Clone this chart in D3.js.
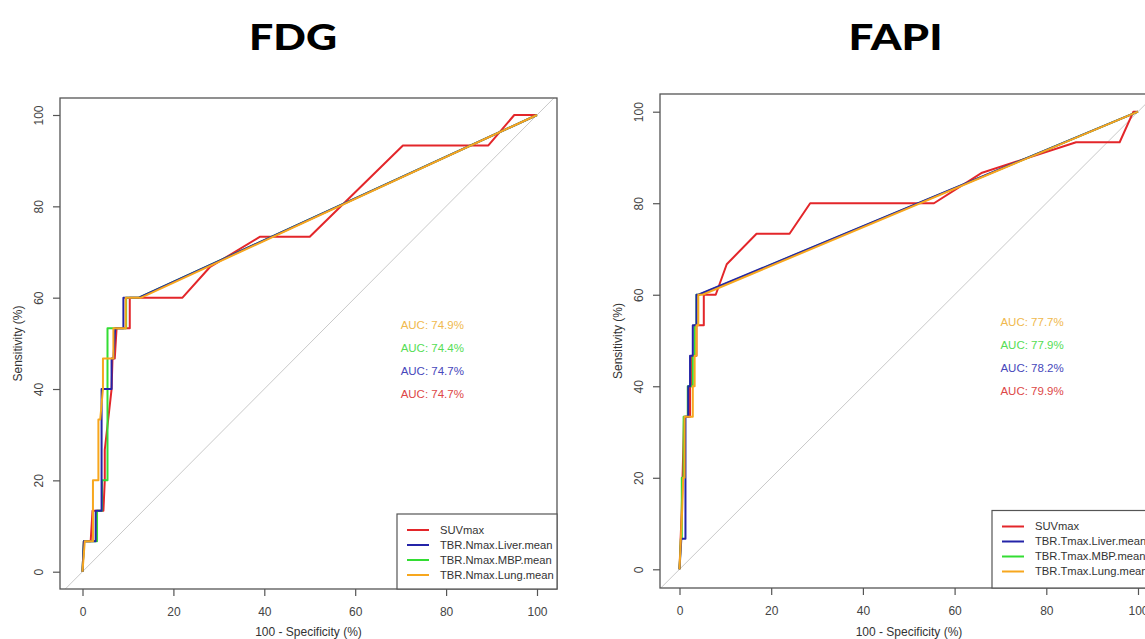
<!DOCTYPE html>
<html>
<head>
<meta charset="utf-8">
<script src="https://cdn.jsdelivr.net/npm/d3@7"></script>
<style>
  body { margin: 0; background: #fff; }
  svg { display: block; }
</style>
</head>
<body>
<svg width="1145" height="639"></svg>
<script>
// ticks shared by both panels
var axisTicks = [0, 20, 40, 60, 80, 100];

// FDG curves : [100 - specificity, sensitivity]
var fdgSuv = [[0,0],[0.3,6.67],[1.8,6.67],[2.2,13.33],[4.6,13.33],[4.9,20],[4.9,26.67],[6.4,40],[6.6,46.67],[7.1,46.67],[7.5,53.33],[10.4,53.33],[10.4,60],[22,60],[28,66.67],[39,73.33],[50,73.33],[70.5,93.33],[89.3,93.33],[95,100],[100,100]];
var fdgLiver = [[0,0],[0.3,6.67],[2.9,6.67],[2.9,13.33],[4.2,13.33],[4.2,40],[6.4,40],[6.4,46.67],[6.8,46.67],[7.2,53.33],[9.0,53.33],[9.0,60],[12.4,60],[100,100]];
var fdgMbp = [[0,0],[0.3,6.67],[3.2,6.67],[3.2,13.33],[4.3,13.33],[4.3,20],[5.5,20],[5.5,53.33],[9.6,53.33],[9.6,60],[12.4,60],[100,100]];
var fdgLung = [[0,0],[0.5,6.67],[2.3,6.67],[2.3,20],[3.5,20],[3.5,33.33],[3.9,33.33],[4.5,40],[4.5,46.67],[6.8,46.67],[6.8,53.33],[9.5,53.33],[9.5,60],[12.9,60],[100,100]];

// FAPI curves
var fapiSuv = [[0,0],[0.5,13.33],[1.0,33.33],[2.3,33.33],[2.3,40],[2.7,40],[2.7,46.67],[3.7,46.67],[3.7,53.33],[5.3,53.33],[5.3,60],[7.9,60],[10.3,66.67],[16.8,73.33],[24,73.33],[28.5,80],[55.5,80],[66,86.67],[86.5,93.33],[96,93.33],[99,100],[100,100]];
var fapiLiver = [[0,0],[0.4,6.67],[1.3,6.67],[1.3,33.33],[1.9,33.33],[1.9,40],[2.3,40],[2.3,46.67],[2.9,46.67],[2.9,53.33],[3.7,53.33],[3.7,60],[4.1,60],[100,100]];
var fapiMbp = [[0,0],[0.3,6.67],[0.5,6.67],[0.5,20],[0.9,20],[0.9,33.33],[1.8,33.33],[1.8,40],[2.9,40],[2.9,46.67],[3.3,46.67],[3.3,53.33],[3.7,53.33],[3.7,60],[4.3,60],[100,100]];
var fapiLung = [[0,0],[0.6,13.33],[0.8,20],[1.1,20],[1.1,33.33],[2.9,33.33],[2.9,40],[3.3,40],[3.3,46.67],[3.7,46.67],[3.7,53.33],[4.1,53.33],[4.1,60],[5.0,60],[100,100]];

var fdgNames = ["SUVmax", "TBR.Nmax.Liver.mean", "TBR.Nmax.MBP.mean", "TBR.Nmax.Lung.mean"];
var fapiNames = ["SUVmax", "TBR.Tmax.Liver.mean", "TBR.Tmax.MBP.mean", "TBR.Tmax.Lung.mean"];

var fdgAuc = [74.7, 74.7, 74.4, 74.9];
var fapiAuc = [79.9, 78.2, 77.9, 77.7];

var lineColors = ["#e3262a", "#2424a8", "#33dd33", "#f7a71e"];
var aucColors = ["#dd4747", "#4747bb", "#55dd55", "#f0b94e"];
// ordre de dessin : le bleu passe au-dessus du vert
var drawOrder = [0, 2, 1, 3];

var svg = d3.select("svg");

function drawRoc(id, title, titleX, titleW, box, xr, yr, curves, names, aucs, legendBox) {

    var g = svg.append("g").attr("id", id);

    var x = d3.scaleLinear().domain([0, 100]).range(xr);
    var y = d3.scaleLinear().domain([0, 100]).range(yr);

    // titre du panneau
    svg.append("text")
        .attr("x", titleX)
        .attr("y", 50)
        .attr("text-anchor", "middle")
        .attr("textLength", titleW)
        .attr("lengthAdjust", "spacingAndGlyphs")
        .style("font-family", "Lato, 'Open Sans', sans-serif")
        .style("font-weight", "900")
        .style("font-size", "36px")
        .style("fill", "#000")
        .text(title);

    g.append("clipPath").attr("id", id + "-clip")
        .append("rect")
        .attr("x", box[0]).attr("y", box[1])
        .attr("width", box[2] - box[0]).attr("height", box[3] - box[1]);

    // diagonale de référence
    g.append("line")
        .attr("clip-path", "url(#" + id + "-clip)")
        .attr("x1", x(-10)).attr("y1", y(-10))
        .attr("x2", x(110)).attr("y2", y(110))
        .style("stroke", "#c9c9c9")
        .style("stroke-width", 1);

    var line = d3.line()
        .x(function(d) { return x(d[0]); })
        .y(function(d) { return y(d[1]); });

    drawOrder.forEach(function(i) {
        g.append("path")
            .datum(curves[i])
            .attr("d", line)
            .style("fill", "none")
            .style("stroke", lineColors[i])
            .style("stroke-width", 2)
            .style("stroke-linejoin", "round");
    });

    // textes AUC (ordre inverse : Lung en haut)
    var aucY = [39, 44, 49, 54];
    aucs.forEach(function(a, i) {
        g.append("text")
            .attr("x", x(70))
            .attr("y", y(aucY[i]))
            .attr("dy", "0.35em")
            .style("font-family", "'Liberation Sans', Arial, sans-serif")
            .style("font-size", "11.5px")
            .style("fill", aucColors[i])
            .text("AUC: " + a.toFixed(1) + "%");
    });

    // cadre
    g.append("rect")
        .attr("x", box[0]).attr("y", box[1])
        .attr("width", box[2] - box[0]).attr("height", box[3] - box[1])
        .style("fill", "none")
        .style("stroke", "#555")
        .style("stroke-width", 1.3);

    var xAxis = g.append("g")
        .attr("transform", "translate(0," + box[3] + ")")
        .call(d3.axisBottom(x).tickValues(axisTicks).tickSize(7).tickSizeOuter(0).tickPadding(11));

    var yAxis = g.append("g")
        .attr("transform", "translate(" + box[0] + ",0)")
        .call(d3.axisLeft(y).tickValues(axisTicks).tickSize(7).tickSizeOuter(0));

    yAxis.selectAll(".tick text")
        .attr("x", null)
        .attr("dy", "0.35em")
        .attr("text-anchor", "middle")
        .attr("transform", "translate(-21,0) rotate(-90)");

    [xAxis, yAxis].forEach(function(a) {
        a.select(".domain").remove();
        a.selectAll(".tick line").style("stroke", "#555").style("stroke-width", 1.2);
        a.selectAll(".tick text")
            .style("font-family", "'Liberation Sans', Arial, sans-serif")
            .style("font-size", "12px")
            .style("fill", "#444");
    });

    g.append("text")
        .attr("x", (box[0] + box[2]) / 2)
        .attr("y", 636)
        .attr("text-anchor", "middle")
        .style("font-family", "'Liberation Sans', Arial, sans-serif")
        .style("font-size", "12px")
        .style("fill", "#333")
        .text("100 - Specificity (%)");

    g.append("text")
        .attr("transform", "translate(" + (box[0] - 42) + "," + ((box[1] + box[3]) / 2) + ") rotate(-90)")
        .attr("text-anchor", "middle")
        .attr("dy", "0.35em")
        .style("font-family", "'Liberation Sans', Arial, sans-serif")
        .style("font-size", "12px")
        .style("fill", "#333")
        .text("Sensitivity (%)");

    // légende
    var leg = g.append("g");
    leg.append("rect")
        .attr("x", legendBox[0]).attr("y", legendBox[1])
        .attr("width", legendBox[2] - legendBox[0]).attr("height", legendBox[3] - legendBox[1])
        .style("fill", "#fff")
        .style("stroke", "#555")
        .style("stroke-width", 1.2);

    names.forEach(function(n, i) {
        var ly = legendBox[1] + 16 + i * 15;
        leg.append("line")
            .attr("x1", legendBox[0] + 10).attr("x2", legendBox[0] + 32)
            .attr("y1", ly).attr("y2", ly)
            .style("stroke", lineColors[i])
            .style("stroke-width", 2);
        leg.append("text")
            .attr("x", legendBox[0] + 43)
            .attr("y", ly)
            .attr("dy", "0.35em")
            .style("font-family", "'Liberation Sans', Arial, sans-serif")
            .style("font-size", "11.2px")
            .style("fill", "#333")
            .text(n);
    });
}

drawRoc("fdg", "FDG", 293, 88, [60, 98, 557, 589], [82.5, 537], [571.7, 115],
        [fdgSuv, fdgLiver, fdgMbp, fdgLung], fdgNames, fdgAuc, [397, 514, 557, 589]);

drawRoc("fapi", "FAPI", 895.5, 94, [660, 94, 1158, 588], [679.5, 1138], [569.3, 111.7],
        [fapiSuv, fapiLiver, fapiMbp, fapiLung], fapiNames, fapiAuc, [992, 510.5, 1160, 588]);
</script>
</body>
</html>
